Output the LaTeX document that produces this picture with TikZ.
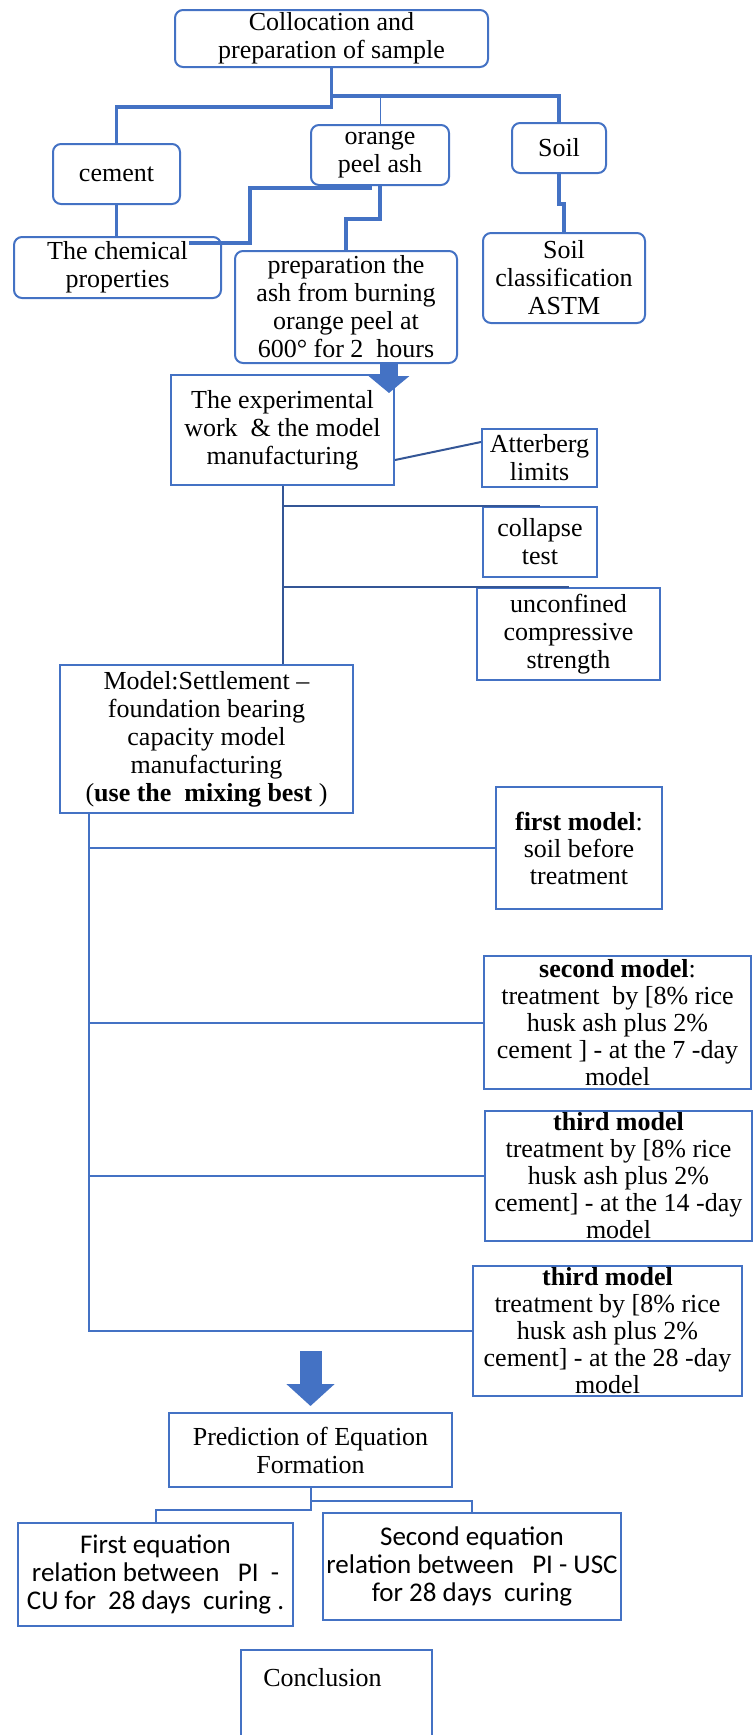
\documentclass[tikz,border=0pt]{standalone}
\usepackage{fontspec}
\setmainfont{Liberation Serif}
\newfontfamily\calibri{Carlito}
\usetikzlibrary{arrows.meta,calc}
\definecolor{boxblue}{RGB}{68,114,196}
\definecolor{darkblue}{RGB}{52,86,150}
\begin{document}
\begin{tikzpicture}[x=0.5pt, y=-0.5pt,
  sqbox/.style = {draw=boxblue, line width=1pt, align=center, inner sep=1pt, font=\fontsize{13}{14}\selectfont},
  rbox/.style = {sqbox, rounded corners=4pt},
  modelbox/.style = {sqbox, font=\fontsize{13}{13.5}\selectfont},
  eqbox/.style = {sqbox, font=\calibri\fontsize{13.5}{14}\selectfont},
  thickline/.style = {draw=boxblue, line width=1.6pt},
  thinline/.style = {draw=boxblue, line width=0.5pt},
  link/.style = {draw=boxblue, line width=1pt},
  testlink/.style = {draw=darkblue, line width=1pt},
  arrowA/.style = {draw=boxblue, line width=9pt, -{Triangle[width=20pt, length=8.5pt]}},
  arrowB/.style = {draw=boxblue, line width=11pt, -{Triangle[width=23.5pt, length=11pt]}}]
\useasboundingbox (0,0) rectangle (755,1735);
% sample preparation
\node[rbox, minimum width=156.5pt, minimum height=28.5pt] (collect) at (331.5,38.5) {Collocation and\\preparation of sample};
\node[rbox, minimum width=63.5pt, minimum height=30pt] (cement) at (116.5,174) {cement};
\node[rbox, minimum width=69pt, minimum height=30pt] (orange) at (380,155) {orange\\peel ash};
\node[rbox, minimum width=47pt, minimum height=25pt] (soil) at (559,148) {Soil};
\node[rbox, minimum width=103.5pt, minimum height=30.5pt] (chem) at (117.5,267.5) {The chemical\\properties};
\node[rbox, minimum width=111pt, minimum height=56pt] (prep) at (346,307) {preparation the\\ash from burning\\orange peel at\\600° for 2\ \ hours};
\node[rbox, minimum width=81pt, minimum height=45pt] (sclass) at (564,278) {Soil\\classification\\ASTM};
\draw[thickline] (collect.south) -- ++(0,28) coordinate (split) -| (soil.north);
\draw[thickline] (split) -- ++(0,11) -| (cement.north);
\draw[thinline] (orange.north) -- (orange.north |- split);
\draw[thickline] (cement.south) -- (chem.north -| cement.south);
\draw[thickline] ($(orange.south)+(-8,2)$) -- ++(-122,0) |- ([xshift=-16.5pt,yshift=-3.5pt]chem.north east);
\draw[thickline] (orange.south) -- ++(0,33) -| (prep.north);
\draw[thickline] (soil.south) -- ++(0,30) -| (sclass.north);
% tests
\node[sqbox, minimum width=111.5pt, minimum height=55pt] (exper) at (282.5,430) {The experimental\\work\ \ \& the model\\manufacturing};
\node[sqbox, minimum width=57.5pt, minimum height=29pt] (atter) at (539.5,458) {Atterberg\\limits};
\node[sqbox, minimum width=57pt, minimum height=35pt] (coll) at (540,542) {collapse\\test};
\node[sqbox, minimum width=91.5pt, minimum height=46pt] (unconf) at (568.5,634) {unconfined\\compressive\\strength};
\node[sqbox, minimum width=146.5pt, minimum height=74pt] (model) at (206.5,739) {Model:Settlement --\\foundation bearing\\capacity model\\manufacturing\\(\textbf{use the\ \ mixing best} )};
\draw[arrowA] ([xshift=21.5pt,yshift=1pt]prep.south) -- ++(0,31);
\draw[testlink] ([yshift=-15pt]exper.east) -- ([yshift=8pt]atter.west);
\draw[testlink] (exper.south) -- (model.north -| exper.south);
\draw[testlink] (coll.north -| exper.south) -- (coll.north);
\draw[testlink] (unconf.north -| exper.south) -- (unconf.north);
% models
\node[modelbox, minimum width=83pt, minimum height=61pt] (first) at (579,848) {\textbf{first model}:\\soil before\\treatment};
\node[modelbox, minimum width=133.5pt, minimum height=66.5pt] (second) at (617.5,1022.5) {\textbf{second model}:\\treatment\ \ by [8\% rice\\husk ash plus 2\%\\cement ] - at the 7 -day\\model};
\node[modelbox, minimum width=133.5pt, minimum height=65pt] (thirdA) at (618.5,1176) {\textbf{third model}\\treatment by [8\% rice\\husk ash plus 2\%\\cement] - at the 14 -day\\model};
\node[modelbox, minimum width=134.5pt, minimum height=63pt] (thirdB) at (607.5,1331) {\textbf{third model}\\treatment by [8\% rice\\husk ash plus 2\%\\cement] - at the 28 -day\\model};
\coordinate (trunk) at ($(model.south west)+(30,0)$);
\draw[link] (trunk) |- (thirdB.west);
\draw[link] (trunk |- first.west) -- (first.west);
\draw[link] (trunk |- second.west) -- (second.west);
\draw[link] (trunk |- thirdA.west) -- (thirdA.west);
% equations
\node[sqbox, minimum width=141.5pt, minimum height=37pt] (pred) at (310.5,1450) {Prediction of Equation\\Formation};
\draw[arrowB] ($(pred.north)+(0,-61)$) -- ($(pred.north)+(0,-6)$);
\node[eqbox, minimum width=137.5pt, minimum height=51.5pt] (eqA) at (155.5,1574.5) {First equation\\relation between\ \ \ PI\ \ -\\CU for\ \ 28 days\ \ curing .};
\node[eqbox, minimum width=149pt, minimum height=53.5pt] (eqB) at (472,1566.5) {Second equation\\relation between\ \ \ PI - USC\\for 28 days\ \ curing};
\draw[link] (pred.south) -- ++(0,13) -| (eqB.north);
\draw[link] (pred.south) -- ++(0,22) -| (eqA.north);
\node[sqbox, minimum width=95.5pt, minimum height=50pt] (concl) at (336.5,1700) {\hspace*{-14pt}Conclusion\\[9pt]\mbox{}};
\end{tikzpicture}
\end{document}
